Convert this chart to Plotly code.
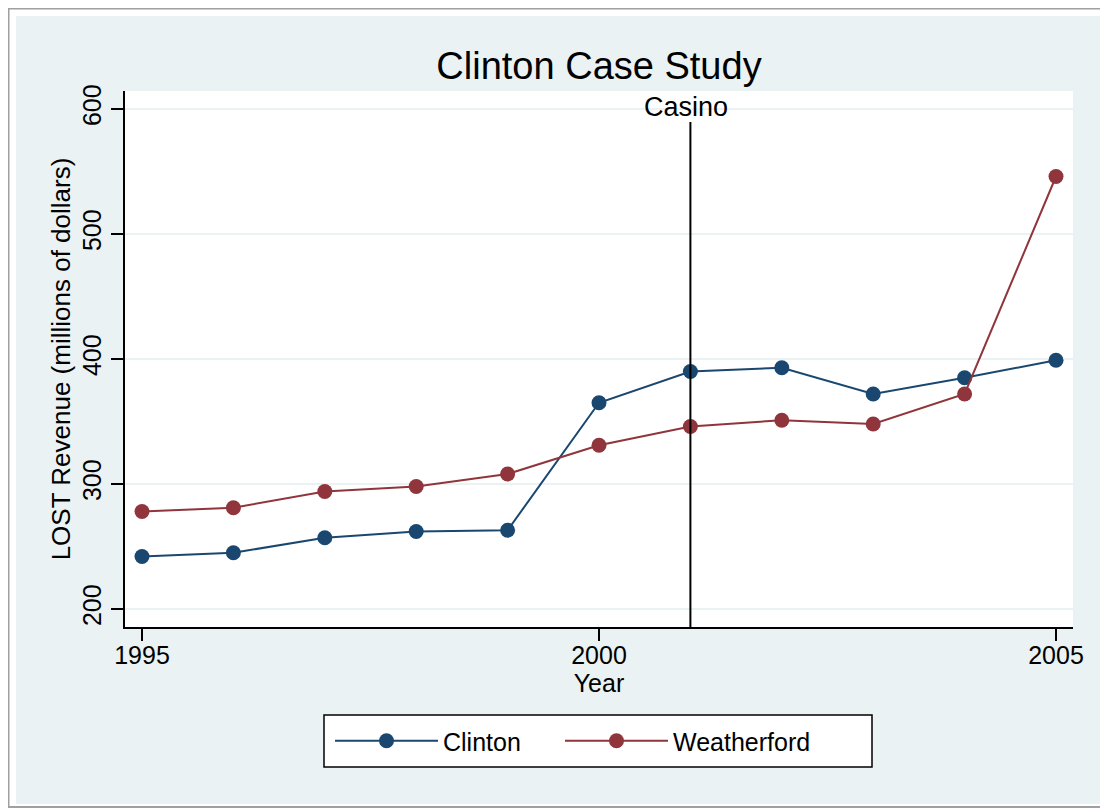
import plotly.graph_objects as go

years = [1995, 1996, 1997, 1998, 1999, 2000, 2001, 2002, 2003, 2004, 2005]
clinton = [242, 245, 257, 262, 263, 365, 390, 393, 372, 385, 399]
weatherford = [278, 281, 294, 298, 308, 331, 346, 351, 348, 372, 546]
casino_year = 2001
casino_label = "Casino"
x_ticks = [1995, 2000, 2005]
y_ticks = [200, 300, 400, 500, 600]

FONT = "Liberation Sans, Arial, Helvetica, sans-serif"
NAVY = "#1A476F"
MAROON = "#90353B"
BG = "#EAF2F3"

# page offset of the figure (html body margin) is 8px; plot area spans page x 125..1073, y 91..627
W, H = 1100, 802


def px(x):  # page x -> paper x
    return (x - 125) / 948


def py(y):  # page y -> paper y
    return (627 - y) / 536


fig = go.Figure()
fig.add_trace(go.Scatter(x=years, y=clinton, name="Clinton", mode="lines+markers",
                         line=dict(color=NAVY, width=2), marker=dict(color=NAVY, size=15),
                         legend="legend"))
fig.add_trace(go.Scatter(x=years, y=weatherford, name="Weatherford", mode="lines+markers",
                         line=dict(color=MAROON, width=2), marker=dict(color=MAROON, size=15),
                         legend="legend2"))

# page frame (outer gray border, light blue graph region, white plot region)
fig.add_shape(type="rect", xref="paper", yref="paper", x0=px(8.5), x1=px(1102),
              y0=py(807), y1=py(8.5), line=dict(color="#A0A0A0", width=2),
              fillcolor="white", layer="below")
fig.add_shape(type="rect", xref="paper", yref="paper", x0=px(16), x1=px(1100),
              y0=py(804), y1=py(16), line=dict(width=0),
              fillcolor=BG, layer="below")
fig.add_shape(type="rect", xref="paper", yref="paper", x0=0, x1=1, y0=0, y1=1,
              line=dict(width=0), fillcolor="white", layer="below")
# legend box
fig.add_shape(type="rect", xref="paper", yref="paper", x0=px(324), x1=px(872),
              y0=py(767), y1=py(715), line=dict(color="black", width=1.5),
              fillcolor="white", layer="below")

# casino line
fig.add_shape(type="line", xref="x", yref="paper", x0=casino_year, x1=casino_year,
              y0=0, y1=py(122), line=dict(color="black", width=2))
fig.add_annotation(x=casino_year, y=py(107), xref="x", yref="paper", text=casino_label,
                   showarrow=False, xanchor="center", yanchor="middle", xshift=-4,
                   font=dict(family=FONT, size=27, color="black"))

leg_common = dict(orientation="h", xanchor="left", yanchor="middle", y=py(741),
                  bgcolor="rgba(0,0,0,0)", borderwidth=0,
                  font=dict(family=FONT, size=25, color="black"),
                  itemwidth=103, itemclick=False, itemdoubleclick=False)

fig.update_layout(
    width=W, height=H,
    margin=dict(l=117, r=W - 1065, t=83, b=H - 619, pad=0),
    paper_bgcolor="white", plot_bgcolor="white",
    font=dict(family=FONT, size=25, color="black"),
    title=dict(text="Clinton Case Study", x=0.5, xref="paper", y=1 - 58 / H,
               yref="container", xanchor="center", yanchor="middle",
               font=dict(family=FONT, size=38, color="black")),
    showlegend=True,
    legend=dict(x=px(330), **leg_common),
    legend2=dict(x=px(560), **leg_common),
    xaxis=dict(range=[1994.814, 2005.186], tickvals=x_ticks, ticks="outside",
               ticklen=12, tickwidth=1.5, tickcolor="black", showline=True,
               linecolor="black", linewidth=1.5, mirror=False, showgrid=False,
               zeroline=False, tickfont=dict(size=25), ticklabelstandoff=-7,
               title=dict(text="Year", standoff=6, font=dict(size=25))),
    yaxis=dict(range=[185.6, 614.4], tickvals=y_ticks, ticks="outside",
               ticklen=12, tickwidth=1.5, tickcolor="black", showline=True,
               linecolor="black", linewidth=1.5, mirror=False, showgrid=True,
               gridcolor=BG, gridwidth=2, zeroline=False, tickangle=-90,
               tickfont=dict(size=25),
               title=dict(text="LOST Revenue (millions of dollars)", standoff=0,
                          font=dict(size=26))),
)

fig.write_html("out.html")
